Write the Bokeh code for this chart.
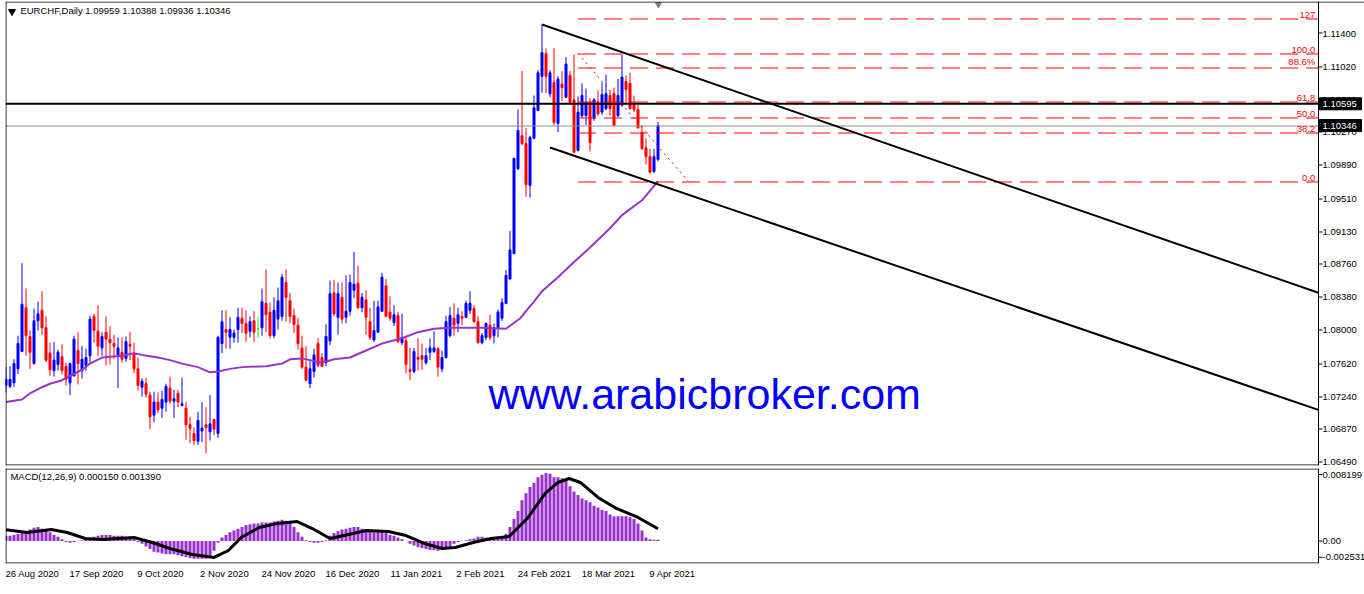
import math
from bokeh.plotting import figure
from bokeh.models import Range1d, FixedTicker, LinearAxis, Span
from bokeh.layouts import column
from bokeh.embed import file_html
from bokeh.resources import INLINE
from bokeh.core.properties import value

FONT = "Liberation Sans"

# ---------------- data ----------------
opens = [1.0737,1.0736,1.0740,1.0756,1.0776,1.0826,1.0793,1.0762,1.0811,1.0823,
1.0803,1.0774,1.0754,1.0761,1.0770,1.0759,1.0740,1.0748,1.0777,1.0754,
1.0760,1.0771,1.0816,1.0799,1.0780,1.0798,1.0790,1.0785,1.0772,1.0775,
1.0768,1.0784,1.0774,1.0756,1.0735,1.0739,1.0726,1.0703,1.0718,1.0711,
1.0718,1.0734,1.0719,1.0728,1.0714,1.0711,1.0692,1.0682,1.0673,1.0685,
1.0692,1.0684,1.0698,1.0682,1.0785,1.0801,1.0792,1.0792,1.0801,1.0814,
1.0808,1.0799,1.0811,1.0802,1.0803,1.0831,1.0821,1.0794,1.0813,1.0816,
1.0855,1.0834,1.0817,1.0806,1.0780,1.0758,1.0739,1.0753,1.0785,1.0769,
1.0763,1.0788,1.0843,1.0815,1.0838,1.0815,1.0822,1.0846,1.0854,1.0826,
1.0835,1.0810,1.0789,1.0798,1.0822,1.0851,1.0821,1.0809,1.0817,1.0786,
1.0788,1.0755,1.0753,1.0769,1.0771,1.0763,1.0775,1.0776,1.0779,1.0756,
1.0769,1.0794,1.0814,1.0808,1.0816,1.0815,1.0823,1.0825,1.0810,1.0786,
1.0792,1.0806,1.0794,1.0803,1.0814,1.0831,1.0859,1.0888,1.0985,1.1023,
1.1014,1.0966,1.1020,1.1052,1.1091,1.1117,1.1071,1.1084,1.1037,1.1082,
1.1067,1.1092,1.1064,1.1006,1.1046,1.1046,1.1061,1.1043,1.1062,1.1050,
1.1054,1.1069,1.1071,1.1046,1.1058,1.1085,1.1083,1.1058,1.1053,1.1027,
1.1009,1.0999,1.0982,1.09959]

highs = [1.0758,1.0759,1.0767,1.0794,1.0877,1.0848,1.0800,1.0825,1.0833,1.0845,
1.0816,1.0786,1.0787,1.0778,1.0784,1.0763,1.0763,1.0794,1.0798,1.0782,
1.0779,1.0817,1.0819,1.0829,1.0798,1.0816,1.0805,1.0795,1.0792,1.0792,
1.0793,1.0798,1.0786,1.0769,1.0745,1.0746,1.0730,1.0730,1.0729,1.0731,
1.0739,1.0747,1.0732,1.0732,1.0746,1.0718,1.0701,1.0689,1.0707,1.0718,
1.0712,1.0726,1.0699,1.0794,1.0823,1.0823,1.0815,1.0801,1.0826,1.0826,
1.0823,1.0816,1.0822,1.0816,1.0848,1.0870,1.0832,1.0838,1.0849,1.0865,
1.0870,1.0843,1.0825,1.0814,1.0794,1.0782,1.0766,1.0779,1.0791,1.0774,
1.0807,1.0857,1.0858,1.0855,1.0855,1.0863,1.0864,1.0890,1.0874,1.0843,
1.0846,1.0826,1.0834,1.0834,1.0866,1.0859,1.0839,1.0829,1.0821,1.0819,
1.0794,1.0780,1.0780,1.0791,1.0785,1.0780,1.0791,1.0799,1.0781,1.0777,
1.0817,1.0827,1.0831,1.0826,1.0822,1.0834,1.0845,1.0829,1.0816,1.0797,
1.0809,1.0818,1.0808,1.0824,1.0837,1.0869,1.0914,1.0998,1.1053,1.1097,
1.1032,1.1023,1.1069,1.1098,1.1150,1.1123,1.1098,1.1123,1.1091,1.1097,
1.1113,1.1097,1.1116,1.1068,1.1083,1.1077,1.1066,1.1066,1.1075,1.1084,
1.1093,1.1074,1.1078,1.1088,1.1116,1.1092,1.1095,1.1069,1.1058,1.1035,
1.1020,1.1008,1.1008,1.10388]

lows = [1.0729,1.0734,1.0735,1.0750,1.0775,1.0771,1.0756,1.0761,1.0800,1.0795,
1.0764,1.0748,1.0747,1.0754,1.0750,1.0737,1.0726,1.0747,1.0738,1.0745,
1.0754,1.0762,1.0786,1.0771,1.0771,1.0760,1.0761,1.0767,1.0734,1.0763,
1.0764,1.0766,1.0751,1.0731,1.0724,1.0723,1.0687,1.0695,1.0705,1.0700,
1.0707,1.0716,1.0700,1.0712,1.0713,1.0675,1.0671,1.0669,1.0669,1.0672,
1.0659,1.0674,1.0680,1.0677,1.0774,1.0779,1.0779,1.0786,1.0786,1.0797,
1.0787,1.0792,1.0787,1.0792,1.0794,1.0798,1.0791,1.0791,1.0801,1.0811,
1.0810,1.0808,1.0797,1.0778,1.0756,1.0742,1.0734,1.0746,1.0758,1.0758,
1.0759,1.0783,1.0816,1.0795,1.0808,1.0808,1.0817,1.0837,1.0825,1.0821,
1.0795,1.0789,1.0787,1.0797,1.0821,1.0815,1.0811,1.0805,1.0786,1.0783,
1.0751,1.0743,1.0751,1.0754,1.0755,1.0761,1.0766,1.0774,1.0747,1.0752,
1.0768,1.0792,1.0794,1.0798,1.0806,1.0814,1.0819,1.0809,1.0785,1.0784,
1.0789,1.0789,1.0785,1.0792,1.0811,1.0830,1.0858,1.0887,1.0984,1.1012,
1.0953,1.0952,1.1019,1.1051,1.1072,1.1072,1.1067,1.1035,1.1027,1.1063,
1.1066,1.1060,1.1003,1.1005,1.1043,1.1035,1.1005,1.1040,1.1046,1.1047,
1.1052,1.1046,1.1034,1.1044,1.1056,1.1060,1.1053,1.1050,1.1031,1.1007,
1.0990,1.0980,1.0980,1.09936]

closes = [1.0744,1.0744,1.0762,1.0785,1.0830,1.0794,1.0775,1.0811,1.0819,1.0803,
1.0766,1.0755,1.0766,1.0775,1.0754,1.0744,1.0762,1.0790,1.0762,1.0767,
1.0769,1.0813,1.0800,1.0782,1.0793,1.0790,1.0786,1.0782,1.0780,1.0767,
1.0787,1.0782,1.0756,1.0737,1.0742,1.0727,1.0701,1.0718,1.0709,1.0721,
1.0736,1.0719,1.0722,1.0718,1.0716,1.0692,1.0688,1.0674,1.0697,1.0688,
1.0689,1.0693,1.0687,1.0792,1.0810,1.0798,1.0801,1.0797,1.0815,1.0808,
1.0797,1.0810,1.0798,1.0802,1.0833,1.0818,1.0794,1.0823,1.0834,1.0861,
1.0838,1.0816,1.0807,1.0785,1.0758,1.0743,1.0756,1.0772,1.0760,1.0759,
1.0793,1.0842,1.0819,1.0842,1.0813,1.0822,1.0855,1.0853,1.0826,1.0838,
1.0815,1.0792,1.0800,1.0827,1.0861,1.0816,1.0814,1.0818,1.0787,1.0792,
1.0761,1.0753,1.0776,1.0767,1.0767,1.0771,1.0780,1.0780,1.0758,1.0769,
1.0810,1.0817,1.0806,1.0818,1.0814,1.0831,1.0831,1.0810,1.0786,1.0794,
1.0808,1.0792,1.0803,1.0821,1.0832,1.0863,1.0892,1.0997,1.1029,1.1014,
1.0967,1.1021,1.1055,1.1095,1.1118,1.1091,1.1095,1.1038,1.1088,1.1078,
1.1105,1.1061,1.1004,1.1050,1.1069,1.1061,1.1015,1.1064,1.1048,1.1070,
1.1071,1.1054,1.1035,1.1069,1.1090,1.1076,1.1054,1.1053,1.1032,1.1008,
1.0999,1.0981,1.0999,1.10346]

# moving average (purple) read at selected bars
ma_x = [0,4,6,9,11,14,16,19,21,24,26,29,32,34,38,41,44,48,51,53,56,59,65,69,71,74,76,79,82,86,
        90,94,99,103,107,111,115,119,125,128.6,130,132,134,138,141,146,151,154,159,163]
ma_y = [1.0718,1.0721,1.0728,1.0735,1.0739,1.0743,1.0748,1.0755,1.0762,1.0769,1.0770,1.0771,1.0774,
        1.0772,1.0769,1.0766,1.0762,1.0758,1.0752,1.0753,1.0756,1.0758,1.0759,1.0762,1.0767,1.0768,
        1.0766,1.0763,1.0767,1.0769,1.0777,1.0785,1.0791,1.0798,1.0802,1.0803,1.0803,1.0803,1.0802,
        1.0814,1.0822,1.0833,1.0845,1.0861,1.0874,1.0895,1.0917,1.0932,1.0949,1.0971]

# MACD histogram (per bar) and signal line
macd_hist = [0.0006,0.0006,0.0007,0.0008,0.0009,0.0011,0.0013,0.0015,0.0016,0.0014,
0.0012,0.0010,0.0007,0.0005,0.0002,-0.0001,-0.0002,-0.0001,0.00005,0.0001,
0.0002,0.0003,0.0005,0.0006,0.0007,0.0007,0.0007,0.0006,0.0006,0.0006,
0.0005,0.0004,0.0002,-0.0001,-0.0003,-0.0006,-0.0009,-0.0012,-0.0013,-0.0014,
-0.0015,-0.0015,-0.0015,-0.0016,-0.0017,-0.0018,-0.0019,-0.0020,-0.0020,-0.0020,
-0.0020,-0.0019,-0.0011,-0.0002,0.0004,0.0007,0.0010,0.0012,0.0014,0.0016,
0.0018,0.0019,0.0020,0.0020,0.0021,0.0021,0.0021,0.0022,0.0023,0.0024,
0.0023,0.0021,0.0016,0.0010,0.0005,0.0001,-0.0001,-0.0002,-0.0002,-0.0001,
0.0001,0.0006,0.0009,0.0011,0.0013,0.0014,0.0015,0.0016,0.0016,0.0014,
0.0012,0.0011,0.0010,0.0010,0.0010,0.0009,0.0007,0.0006,0.0004,0.0002,
0.0000,-0.0003,-0.0005,-0.0007,-0.0008,-0.0009,-0.0010,-0.0010,-0.0011,-0.0010,
-0.0009,-0.0006,-0.0003,-0.0001,0.00005,0.0001,0.0002,0.0003,0.0005,0.0005,
0.0004,0.0003,0.0003,0.0003,0.0005,0.0008,0.0016,0.0025,0.0034,0.0046,
0.0054,0.0061,0.0066,0.0072,0.0075,0.0077,0.0076,0.0072,0.0072,0.0071,
0.0068,0.0062,0.0056,0.0052,0.0048,0.0046,0.0044,0.0040,0.0038,0.0035,
0.0034,0.0030,0.0028,0.0028,0.0028,0.0028,0.0027,0.0025,0.0020,0.0012,
0.0004,0.0002,0.00015,0.00015]

sig_x = [0,5.3,11.3,15.3,19.8,24.3,32,36.6,41,46.6,52,55.6,58.8,63.3,67.8,72.8,76.6,81,86.8,90,
         95.6,100,104.6,109,112.3,116.8,121.3,125.8,130.3,134.8,138,140.8,143.6,148,152.6,158,163]
sig_y = [0.00128,0.00097,0.00131,0.00097,0.00029,0.00018,0.00041,-0.00016,-0.00084,-0.00151,
         -0.00185,-0.00106,0.00041,0.00154,0.00199,0.00221,0.00142,0.00029,0.00086,0.00120,
         0.00108,0.00063,-0.00027,-0.00084,-0.00072,-0.00016,0.00029,0.00052,0.00255,0.00538,
         0.00662,0.00707,0.00662,0.00493,0.00369,0.00267,0.00139]

# axis ticks / labels
price_ticks = [1.11400,1.11020,1.10640,1.10270,1.09890,1.09510,1.09130,1.08760,
               1.08380,1.08000,1.07620,1.07240,1.06870,1.06490]
date_idx = [0,16,32,48,64,80,96,112,128,144,160]
date_labels = ["26 Aug 2020","17 Sep 2020","9 Oct 2020","2 Nov 2020","24 Nov 2020",
               "16 Dec 2020","11 Jan 2021","2 Feb 2021","24 Feb 2021","18 Mar 2021","9 Apr 2021"]
macd_tick_vals = [0.00752, 0.0, -0.00182]
macd_tick_labels = ["0.008199", "0.00", "-0.002531"]

# objects on the chart
h_line = 1.10595
bid_line = 1.10346
fib_high, fib_low = 1.11171, 1.09705
fib_x0, fib_x1 = 143, 170.6
fib_ratios = [0.0, 0.382, 0.5, 0.618, 0.886, 1.0, 1.27]
fib_labels = ["0.0", "38.2", "50.0", "61.8", "88.6%", "100.0", "127"]
up_x, up_y = [134, 328.1], [1.11503, 1.08432]
lo_x, lo_y = [136, 328.1], [1.10095, 1.07090]

title_txt = "EURCHF,Daily  1.09959 1.10388 1.09936 1.10346"
macd_txt = "MACD(12,26,9) 0.000150 0.001390"
watermark = "www.arabicbroker.com"
watermark_pos = (120.6, 1.07278)

# ---------------- geometry ----------------
W = 1364
LB = 5                       # left border (px)
FRAME_W = W - LB             # frame includes price-scale strip
X0 = -0.125
X1 = X0 + FRAME_W / 4.0
X_AX = X0 + 1313 / 4.0       # price-scale line
Y_LO, Y_HI = 1.064536, 1.117664
MAIN_H = 464
PY = (Y_HI - Y_LO) / MAIN_H
M_LO, M_HI = -0.002531, 0.008199
MACD_H = 95
PM = (M_HI - M_LO) / MACD_H


def snap(v):
    """put a 1px horizontal line on a pixel centre"""
    px = (Y_HI - v) / PY
    return Y_HI - (math.floor(px) + 0.5) * PY


xr = Range1d(X0, X1)

n = len(opens)
idx = list(range(n))
colors = ["#0000ff" if c > o else ("#ff0000" if c < o else "#00ff00") for o, c in zip(opens, closes)]
tops = [max(o, c) for o, c in zip(opens, closes)]
bots = [min(o, c) for o, c in zip(opens, closes)]

TXT = dict(text_font=value(FONT), text_font_size="9.5px")

# ---------------- main panel ----------------
p = figure(width=W, height=MAIN_H + 4, x_range=xr, y_range=Range1d(Y_LO, Y_HI),
           x_axis_location=None, y_axis_location=None,
           output_backend="svg", toolbar_location=None,
           min_border_left=LB, min_border_right=0, min_border_top=1, min_border_bottom=3)
p.grid.visible = False
p.outline_line_color = None
p.background_fill_color = "white"
p.border_fill_color = "white"

# frame lines
p.add_layout(Span(location=X0 + 0.125, dimension="height", line_color="black", line_width=1))
p.add_layout(Span(location=X_AX, dimension="height", line_color="black", line_width=1))
p.add_layout(Span(location=Y_HI - 0.5 * PY, dimension="width", line_color="black", line_width=1))
p.segment(x0=[X0], y0=[Y_LO + 0.5 * PY], x1=[X_AX], y1=[Y_LO + 0.5 * PY], line_color="black", line_width=1)

# candles
p.segment(x0=idx, y0=lows, x1=idx, y1=highs, line_color=colors, line_width=1)
p.vbar(x=idx, width=0.5, top=tops, bottom=bots, fill_color=colors, line_color=colors, line_width=1)

# moving average
p.line(ma_x, ma_y, line_color="#9932cc", line_width=2)

# horizontal lines
p.segment(x0=[X0], y0=[snap(bid_line)], x1=[X_AX], y1=[snap(bid_line)], line_color="#8c8c8c", line_width=1)
p.segment(x0=[X0], y0=[h_line], x1=[X_AX], y1=[h_line], line_color="black", line_width=2)

# fibonacci
fib_lvls = [fib_low + r * (fib_high - fib_low) for r in fib_ratios]
fib_draw = [snap(v) for v in fib_lvls]
k = len(fib_lvls)
p.segment(x0=[fib_x0] * k, y0=fib_draw, x1=[X_AX] * k, y1=fib_draw,
          line_color="#ff0000", line_width=1, line_dash="18 8")
p.line([fib_x0, fib_x1], [fib_high, fib_low], line_color="#ff0000", line_width=1, line_dash="2 4")
p.text(x=[X_AX - 0.8] * k, y=[v + PY for v in fib_draw], text=fib_labels, text_align="right",
       text_baseline="bottom", text_color="#ff0000", **TXT)

# channel
p.line(up_x, up_y, line_color="black", line_width=2)
p.line(lo_x, lo_y, line_color="black", line_width=2)

# watermark
p.text(x=[watermark_pos[0]], y=[watermark_pos[1]], text=[watermark], text_align="left",
       text_baseline="alphabetic", text_font=value(FONT), text_font_size="43px", text_color="#0000ff")

# title and markers
p.scatter(x=[1.5], y=[1.11652], marker="inverted_triangle", size=7, color="black")
p.scatter(x=[163.1], y=[Y_HI - 3 * PY], marker="inverted_triangle", size=6, color="#808080")
p.text(x=[3.6], y=[1.11658], text=[title_txt], text_align="left", text_baseline="middle",
       text_color="black", **TXT)

# price scale
tick_draw = [snap(v) for v in price_ticks]
p.segment(x0=[X_AX] * len(price_ticks), y0=tick_draw, x1=[X_AX + 1.0] * len(price_ticks),
          y1=tick_draw, line_color="black", line_width=1)
p.text(x=[X_AX + 1.0] * len(price_ticks), y=price_ticks, text=[f"{v:.5f}" for v in price_ticks],
       text_align="left", text_baseline="middle", text_color="black", **TXT)
box_vals = [h_line, bid_line]
p.quad(left=[X_AX + 0.25] * 2, right=[X_AX + 10.75] * 2,
       top=[v + 6 * PY for v in box_vals], bottom=[v - 6 * PY for v in box_vals],
       fill_color="black", line_color="black")
p.text(x=[X_AX + 1.0] * 2, y=box_vals, text=[f"{v:.5f}" for v in box_vals],
       text_align="left", text_baseline="middle", text_color="white", **TXT)

# ---------------- MACD panel ----------------
p2 = figure(width=W, height=MACD_H + 22, x_range=xr, y_range=Range1d(M_LO, M_HI),
            x_axis_location=None, y_axis_location=None,
            output_backend="svg", toolbar_location=None,
            min_border_left=LB, min_border_right=0, min_border_top=0, min_border_bottom=22)
p2.grid.visible = False
p2.outline_line_color = None
p2.background_fill_color = "white"
p2.border_fill_color = "white"

p2.add_layout(Span(location=X0 + 0.125, dimension="height", line_color="black", line_width=1))
p2.add_layout(Span(location=X_AX, dimension="height", line_color="black", line_width=1))
p2.segment(x0=[X0, X0], y0=[M_HI - 0.5 * PM, M_LO + 0.5 * PM], x1=[X_AX, X_AX],
           y1=[M_HI - 0.5 * PM, M_LO + 0.5 * PM], line_color="black", line_width=1)

p2.vbar(x=idx, top=macd_hist, bottom=0, width=0.75, fill_color="#9932cc", line_color=None)
p2.line(sig_x, sig_y, line_color="black", line_width=3)
p2.text(x=[1.1], y=[0.007295], text=[macd_txt], text_align="left", text_baseline="middle",
        text_color="black", **TXT)

p2.segment(x0=[X_AX] * 3, y0=macd_tick_vals, x1=[X_AX + 1.0] * 3, y1=macd_tick_vals,
           line_color="black", line_width=1)
p2.text(x=[X_AX + 1.0] * 3, y=macd_tick_vals, text=macd_tick_labels, text_align="left",
        text_baseline="middle", text_color="black", **TXT)

# date labels: axis on a shifted range so each label starts at its bar
D = 6.6
p2.extra_x_ranges = {"lbl": Range1d(X0 - D, X1 - D)}
lbl_ax = LinearAxis(x_range_name="lbl", ticker=FixedTicker(ticks=date_idx),
                    major_tick_out=0, major_tick_in=0, minor_tick_out=0, minor_tick_in=0,
                    axis_line_color=None, major_label_standoff=4)
lbl_ax.major_label_overrides = {t: s for t, s in zip(date_idx, date_labels)}
lbl_ax.major_label_text_font = FONT
lbl_ax.major_label_text_font_size = "9.5px"
lbl_ax.major_label_text_color = "black"
p2.add_layout(lbl_ax, "below")

layout = column(p, p2)
open("out.html", "w").write(file_html(layout, INLINE))
